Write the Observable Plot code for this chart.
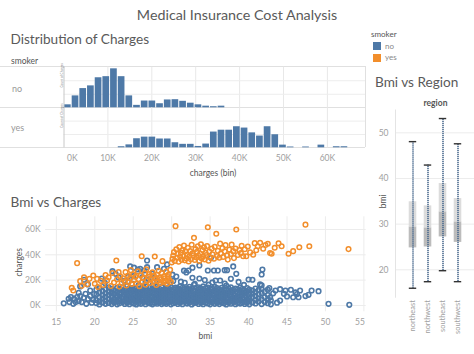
<!DOCTYPE html>
<html><head><meta charset="utf-8">
<script src="https://cdn.jsdelivr.net/npm/d3@7"></script>
<script src="https://cdn.jsdelivr.net/npm/@observablehq/plot@0.6"></script>
<style>
body{margin:0;background:#fff;font-family:Lato,"Open Sans",sans-serif;}
#wrap{position:relative;width:474px;height:354px;overflow:hidden;background:#fff;}
.t{position:absolute;white-space:nowrap;line-height:1;}
.ln{position:absolute;background:#e0e0e0;}
#wrap svg{position:absolute;left:0;top:0;}
</style></head><body><div id="wrap">
<div class="t" style="left:0;width:474px;text-align:center;top:8px;font-size:14.3px;color:#5a5a5a">Medical Insurance Cost Analysis</div>
<div class="t" style="left:10.5px;top:32.5px;font-size:13.6px;color:#5a5a5a">Distribution of Charges</div>
<div class="t" style="left:10.5px;top:195.5px;font-size:13.6px;color:#5a5a5a">Bmi vs Charges</div>
<div class="t" style="left:375px;top:76px;font-size:13.6px;color:#5a5a5a">Bmi vs Region</div>
<div class="t" style="left:371px;top:29.6px;font-size:8px;color:#555">smoker</div>
<div class="t" style="left:373px;top:41.7px;width:8px;height:8px;background:#4e79a7"></div>
<div class="t" style="left:373px;top:53.5px;width:8px;height:8px;background:#f28e2b"></div>
<div class="t" style="left:385px;top:41.6px;font-size:8px;color:#888">no</div>
<div class="t" style="left:385px;top:53.3px;font-size:8px;color:#888">yes</div>
<div class="t" style="left:11px;top:57px;font-size:8.5px;color:#555">smoker</div>
<div class="t" style="left:12px;top:83.6px;font-size:9px;color:#999">no</div>
<div class="t" style="left:11px;top:122.7px;font-size:9px;color:#999">yes</div>
<div class="t" style="left:385.5px;width:100px;text-align:center;top:99.3px;font-size:8.5px;color:#555;font-weight:bold">region</div>
<div class="t" style="left:163px;width:100px;text-align:center;top:168.5px;font-size:8.5px;color:#555">charges (bin)</div>
<div class="t" style="left:155.5px;width:100px;text-align:center;top:332px;font-size:8.5px;color:#555">bmi</div>
<div class="t" style="left:-31px;width:100px;text-align:center;top:258px;font-size:8.5px;color:#555;transform:rotate(-90deg)">charges</div>
<div class="t" style="left:333px;width:100px;text-align:center;top:197px;font-size:8.5px;color:#555;transform:rotate(-90deg)">bmi</div>
<div class="ln" style="left:0;top:66.2px;width:365px;height:1px"></div>
<div class="ln" style="left:0;top:106.8px;width:365px;height:1px"></div>
<div class="ln" style="left:0;top:146.8px;width:365px;height:1px"></div>
<div class="ln" style="left:364.5px;top:66.2px;width:1px;height:81px"></div>
</div>
<script>
// ---------- Histogram data (charges bins, in thousands) ----------
const binWidth = 1.75;
const histTicks = [0, 10, 20, 30, 40, 50, 60];
const noCounts = [11,44,71,81,111,115,144,115,44,9,25,25,15,29,30,24,17,11,6,4,6];
const yesCounts = [0,0,0,0,0,0,0,4,11,34,40,40,33,33,19,13,13,5,14,59,66,66,79,74,56,44,79,49,10,3,0,3,0,10,0,4,4];

// ---------- Box plot data ----------
const regions = ["northeast","northwest","southeast","southwest"];
const bmiMin = [15.96, 17.39, 19.8, 17.4];
const bmiQ1 = [24.8, 25.0, 27.2, 26.0];
const bmiMedian = [29.4, 29.2, 32.7, 30.5];
const bmiQ3 = [34.9, 34.0, 38.9, 35.6];
const bmiMax = [48.07, 42.94, 53.13, 47.6];
const boxTicks = [20, 30, 40, 50];

// ---------- Scatter data (bmi, charges in thousands) ----------
const scatterXTicks = [15, 20, 25, 30, 35, 40, 45, 50, 55];
const scatterYTicks = [0, 20, 40, 60];
const nonSmokerTail = [[15.96,1.7],[16.6,5.3],[16.7,2.7],[16.9,6.6],[17.2,1.3],[17.3,5.3],[17.5,2.7],[17.7,6.6],[17.9,3.5],[17.9,10.0],[18.1,7.4],[18.1,15.0],[18.3,2.7],[18.6,6.1],[18.6,20.3],[18.8,9.2],[18.9,1.3],[19.1,5.3],[19.1,16.6],[19.4,11.8],[19.4,7.4],[19.6,2.2],[19.8,4.6],[19.9,9.0],
[42.9,0.9],[42.8,6.5],[43.5,11.8],[44.1,12.9],[44.1,3.9],[44.8,11.8],[45.0,7.1],[45.5,12.4],[45.8,6.5],[46.1,10.3],[46.3,9.0],[46.5,6.5],[46.7,11.8],[47.4,7.4],[47.8,8.4],[48.2,11.8],[49.1,11.3],[50.4,1.3],[53.1,0.5],[43.2,9.6],[42.7,13.8],[43.7,2.2],[44.6,9.2],[42.9,4.1]];
const nonSmokerHigh = [[22.3,27.1],[22.7,25.0],[23.1,22.0],[24.6,30.8],[25.1,29.8],[25.6,28.4],[25.9,29.0],[26.4,27.6],[26.8,30.2],[26.8,35.5],[28.1,30.2],[29.0,29.0],[29.4,32.4],[27.5,25.0],[28.1,19.7],[24.3,22.4],[25.0,23.1],[23.8,19.5],[21.3,17.8],[20.9,21.2],[31.6,27.5],[31.9,26.1],[32.2,27.6],[32.7,21.9],[32.7,29.8],[33.6,31.6],[33.6,21.3],[34.3,20.1],[35.1,37.6],[34.7,27.6],[35.5,27.6],[36.0,27.6],[36.9,27.9],[37.2,27.9],[38.0,30.8],[38.4,25.0],[37.7,21.0],[41.8,28.4],[41.7,24.5],[40.0,20.5],[40.5,20.3],[41.5,16.6],[41.7,15.9],[35.7,19.7],[36.3,19.7],[30.6,22.8],[30.1,24.3],[27.0,20.6],[26.2,22.3],[29.8,17.9],[31.2,18.8],[33.0,17.0],[34.8,16.4],[36.9,17.3],[38.7,18.6],[39.4,16.2]];
// dense band of non-smokers: [bmi, [charges...]]
const nonSmokerBand = [
[20.2,[1.9,4.3,8.8,12.6]],[20.6,[0.8,3.1,6.2,10.4,13.7]],[21.0,[2.4,5.5,7.9,11.3]],[21.4,[1.3,3.8,6.9,9.6,12.9]],
[21.8,[2.0,4.9,8.4,11.0,14.1]],[22.2,[1.1,3.4,5.8,7.6,10.1,13.2]],[22.5,[2.6,4.6,9.2,12.0]],[22.9,[0.9,3.0,6.4,8.1,10.8,13.9]],
[23.2,[1.8,4.1,5.3,7.2,9.7,12.5]],[23.6,[2.8,5.0,6.8,11.4,14.4]],[23.9,[1.2,3.6,8.6,10.3,13.0]],[24.2,[2.2,4.4,6.1,7.9,9.9,12.2,15.4]],
[24.5,[1.0,3.2,5.6,8.9,11.6,13.6]],[24.8,[2.5,4.8,6.6,10.6,12.9,17.2]],[25.1,[1.5,3.9,5.2,7.7,9.3,11.9,14.0]],[25.4,[0.8,2.9,6.0,8.5,10.9,13.4]],
[25.7,[2.0,4.5,7.1,9.8,12.4,16.1]],[26.0,[1.3,3.5,5.7,8.2,11.1,13.7]],[26.3,[2.7,4.9,6.5,9.0,10.4,12.8,14.6]],[26.6,[1.0,3.3,6.2,7.8,11.7,13.3,18.5]],
[26.9,[2.3,4.2,5.5,8.7,10.2,12.1]],[27.2,[1.6,3.7,6.8,9.5,11.3,14.2]],[27.5,[0.9,2.6,5.1,7.4,10.0,12.7,15.9]],[27.8,[2.1,4.6,6.3,8.9,11.8,13.8]],
[28.1,[1.4,3.1,5.9,7.6,9.7,12.3,14.9]],[28.4,[2.4,4.0,6.9,8.3,10.8,13.1,17.6]],[28.7,[1.1,3.6,5.3,7.2,9.2,11.5,14.3]],[29.0,[2.0,4.4,6.1,8.6,10.5,12.6]],
[29.3,[1.3,2.9,5.6,7.9,9.9,11.9,13.7,16.5]],[29.6,[2.6,4.7,6.6,8.1,10.9,13.4]],[29.9,[0.9,3.4,5.0,7.3,9.4,12.1,14.5]],[30.2,[1.8,4.1,6.4,8.8,11.2,13.0,19.4]],
[30.5,[2.5,3.8,5.4,7.7,10.3,12.7,14.1]],[30.8,[1.2,3.0,6.0,8.4,9.6,11.6,13.6]],[31.1,[2.2,4.6,5.8,7.1,10.7,12.3,15.2]],[31.4,[1.0,3.5,6.7,8.9,11.4,14.0]],
[31.7,[2.9,4.3,5.2,7.5,9.8,12.9,17.9]],[32.0,[1.5,3.2,6.2,8.0,10.1,11.8,13.5]],[32.3,[2.3,4.8,5.6,7.8,9.3,12.5,14.7]],[32.6,[0.8,3.7,6.5,8.6,10.9,13.2]],
[32.9,[1.9,4.0,5.9,7.3,11.5,12.0,16.3]],[33.2,[2.6,3.3,6.9,8.3,9.5,13.9]],[33.5,[1.2,4.5,5.4,7.0,10.4,12.4,14.4]],[33.8,[2.1,3.6,6.3,8.7,11.1,13.3]],
[34.1,[1.0,2.8,5.1,7.6,9.9,12.2,15.0]],[34.4,[2.4,4.2,6.6,8.2,10.6,13.6]],[34.7,[1.6,3.9,5.7,7.4,9.1,11.7,14.2]],[35.0,[0.9,3.0,6.0,8.5,10.3,12.8]],
[35.3,[2.7,4.7,5.5,7.9,11.0,13.1,18.2]],[35.6,[1.3,3.4,6.4,9.0,12.1,14.6]],[35.9,[2.2,4.4,5.2,7.2,9.7,11.3,13.8]],[36.2,[1.1,3.1,6.1,8.0,10.8,12.6]],
[36.5,[2.5,4.0,6.8,8.8,11.5,14.0]],[36.8,[1.7,3.7,5.3,7.5,9.4,13.0]],[37.1,[0.8,2.9,6.2,8.3,10.2,12.3,15.6]],[37.4,[2.3,4.6,5.8,9.6,11.9,13.5]],
[37.7,[1.4,3.5,7.0,8.6,10.7,14.3]],[38.0,[2.8,4.3,6.0,9.2,12.4]],[38.3,[1.0,3.3,5.5,7.8,11.2,13.4]],[38.6,[2.0,4.8,6.6,10.0,12.8]],
[38.9,[1.5,3.8,7.3,9.1,11.6,14.1]],[39.2,[2.6,5.0,8.1,10.5,13.2]],[39.5,[1.2,3.0,6.3,9.8,12.0]],[39.8,[2.2,4.5,7.7,11.1,13.7]],
[40.1,[0.9,3.6,5.8,8.9,12.6]],[40.5,[2.4,6.7,9.4,11.8]],[40.9,[1.6,4.2,7.4,10.6,13.3]],[41.3,[3.1,5.6,8.8,12.2]],
[41.7,[1.1,4.9,9.9,13.0]],[42.1,[2.7,6.5,10.9]],[42.5,[1.8,4.6,8.2,12.5]]];
const smokerLow = [[17.0,14.0],[17.2,11.8],[17.7,33.4],[18.1,19.2],[18.3,15.5],[18.6,22.3],[19.0,16.8],[19.3,21.0],[19.8,23.7],[20.0,17.1],[20.3,21.0],[20.4,14.6],[20.8,19.4],[21.1,16.2],[21.4,24.1],[21.6,19.7],[21.8,22.2],[22.1,15.3],[22.3,25.6],[22.5,18.1],[22.8,35.5],[22.9,20.6],[23.1,26.3],[23.2,14.9],[23.3,23.0],[23.5,17.6],[23.7,21.4],[23.9,19.0],[24.0,26.3],[24.1,15.8],[24.3,23.4],[24.4,18.3],[24.6,21.9],[24.7,27.9],[24.8,16.9],[25.0,24.7],[25.1,19.9],[25.3,22.6],[25.4,17.3],[25.6,26.9],[25.7,20.8],[25.8,15.2],[26.0,23.9],[26.1,38.9],[26.2,18.7],[26.3,21.7],[26.5,25.3],[26.6,16.4],[26.7,28.6],[26.8,19.6],[27.0,22.9],[27.1,24.8],[27.2,17.8],[27.3,20.4],[27.5,26.1],[27.6,18.9],[27.7,23.5],[27.8,38.7],[27.9,21.2],[28.0,16.1],[28.1,24.2],[28.2,19.3],[28.3,27.4],[28.4,22.0],[28.5,17.5],[28.6,20.7],[28.7,25.6],[28.8,35.0],[28.9,18.4],[29.0,23.1],[29.1,21.5],[29.2,19.0],[29.3,26.7],[29.4,17.2],[29.5,22.4],[29.6,24.5],[29.7,20.1],[29.8,28.1],[29.9,18.6]];
const smokerHigh = [[30.0,33.9],[30.1,36.8],[30.2,39.5],[30.3,42.1],[30.4,35.2],[30.5,62.6],[30.6,44.3],[30.7,37.6],[30.8,40.8],[30.9,34.5],[31.0,46.2],[31.1,38.4],[31.2,41.7],[31.3,36.0],[31.4,43.5],[31.5,39.0],[31.6,47.3],[31.7,35.6],[31.8,42.8],[31.9,37.2],[32.0,40.1],[32.1,45.5],[32.2,34.8],[32.3,38.9],[32.4,43.0],[32.5,36.5],[32.6,47.9],[32.7,41.2],[32.8,39.7],[32.9,53.4],[33.0,35.9],[33.1,44.6],[33.2,37.9],[33.3,42.4],[33.4,46.7],[33.5,39.3],[33.6,35.1],[33.7,40.9],[33.8,48.3],[33.9,37.0],[34.0,43.8],[34.1,38.6],[34.2,45.9],[34.3,36.3],[34.4,41.5],[34.5,39.9],[34.6,47.0],[34.7,61.8],[34.8,35.4],[34.9,42.6],[35.0,38.1],[35.2,44.9],[35.3,40.4],[35.5,36.9],[35.6,46.4],[35.8,56.6],[35.9,39.1],[36.0,43.2],[36.2,37.7],[36.3,48.8],[36.4,41.0],[36.6,45.3],[36.7,38.3],[36.9,42.7],[37.0,47.6],[37.2,39.6],[37.3,36.2],[37.5,44.1],[37.7,40.6],[37.8,48.0],[38.0,42.9],[38.1,37.4],[38.3,45.0],[38.4,60.0],[38.6,39.8],[38.8,43.7],[39.0,41.3],[39.1,47.1],[39.3,38.8],[39.5,44.4],[39.7,38.9],[39.9,46.5],[40.2,41.9],[40.6,40.0],[40.8,49.2],[41.0,43.6],[41.2,46.8],[41.5,49.5],[41.9,44.8],[42.2,47.7],[42.5,48.7],[42.8,41.4],[43.0,40.8],[43.4,45.6],[43.9,49.1],[44.3,46.8],[45.2,40.8],[45.8,42.9],[46.6,46.0],[47.4,63.8],[47.9,46.8],[53.0,44.5]];

const BLUE = "#4e79a7", ORANGE = "#f28e2b";
const W = 474, H = 354;
const baseStyle = {background: "transparent", fontFamily: "Lato, 'Open Sans', sans-serif", fontSize: "8.5px", color: "#a0a0a0", overflow: "visible"};
const wrap = document.getElementById("wrap");

// Histogram tables
const noTable = noCounts.map((c, i) => ({x1: i * binWidth, x2: (i + 1) * binWidth, count: c}));
const yesTable = yesCounts.map((c, i) => ({x1: i * binWidth, x2: (i + 1) * binWidth, count: c})).filter(d => d.count > 0);

function histRow(table, top, bottom, withAxis) {
  const marks = [
    Plot.gridX(histTicks.filter(d => d > 0), {stroke: "#e8e8e8", strokeOpacity: 1}),
    Plot.gridY([50, 100], {stroke: "#ededed", strokeOpacity: 1}),
    Plot.rectY(table, {x1: "x1", x2: "x2", y: "count", fill: BLUE, insetLeft: 0.5, insetRight: 0.5}),
    Plot.ruleX([0], {stroke: "#c8c8c8"}),
    Plot.text(["Count of Charges"], {frameAnchor: "left", rotate: -90, dx: -2, fontSize: 3.2, fill: "#888"})
  ];
  if (withAxis) {
    marks.push(Plot.axisX([0], {tickSize: 0, tickPadding: 7, textAnchor: "start", dx: 3, tickFormat: d => d + "K", label: null}));
    marks.push(Plot.axisX(histTicks.filter(d => d > 0), {tickSize: 0, tickPadding: 7, tickFormat: d => d + "K", label: null}));
  }
  return Plot.plot({
    width: W, height: H,
    marginLeft: 63.5, marginRight: W - 365, marginTop: top, marginBottom: H - bottom,
    x: {domain: [0, 68.68], axis: null},
    y: {domain: [0, 150], axis: null},
    style: baseStyle,
    marks
  });
}
wrap.appendChild(histRow(noTable, 66.7, 107.3, false));
wrap.appendChild(histRow(yesTable, 107.3, 147.3, true));

// Scatter
const nonSmokers = nonSmokerTail.concat(nonSmokerHigh, nonSmokerBand.flatMap(([b, cs]) => cs.map(c => [b, c])));
const smokers = smokerLow.concat(smokerHigh);
const scatter = Plot.plot({
  width: W, height: H,
  marginLeft: 45.1, marginRight: W - 365.7, marginTop: 216.3, marginBottom: H - 311.3,
  x: {domain: [13.6, 55.3], axis: null},
  y: {domain: [-5, 70], axis: null},
  style: baseStyle,
  marks: [
    Plot.gridX(scatterXTicks, {stroke: "#ececec", strokeOpacity: 1}),
    Plot.gridY(scatterYTicks, {stroke: "#ececec", strokeOpacity: 1}),
    Plot.dot(nonSmokers, {x: d => d[0], y: d => d[1], r: 2.3, stroke: BLUE, strokeWidth: 1.6, fill: "none"}),
    Plot.dot(smokers, {x: d => d[0], y: d => d[1], r: 2.3, stroke: ORANGE, strokeWidth: 1.5, fill: "none"}),
    Plot.axisX(scatterXTicks.slice(0, -1), {tickSize: 0, tickPadding: 7, label: null}),
    Plot.axisX(scatterXTicks.slice(-1), {tickSize: 0, tickPadding: 7, textAnchor: "end", dx: 1, label: null}),
    Plot.axisY(scatterYTicks, {tickSize: 0, tickPadding: 5, tickFormat: d => d + "K", label: null})
  ]
});
wrap.appendChild(scatter);

// Box plot
const boxTable = regions.map((r, i) => ({region: r, min: bmiMin[i], q1: bmiQ1[i], med: bmiMedian[i], q3: bmiQ3[i], max: bmiMax[i]}));
const box = Plot.plot({
  width: W, height: H,
  marginLeft: 395, marginRight: 0, marginTop: 109.5, marginBottom: H - 296.7,
  x: {domain: regions, range: [404.2, 466.6], padding: 0, axis: null},
  y: {domain: [14, 55], axis: null},
  style: baseStyle,
  marks: [
    Plot.gridY(boxTicks, {stroke: "#ececec", strokeOpacity: 1}),
    Plot.frame({anchor: "left", stroke: "#e4e4e4"}),
    Plot.barY(boxTable, {x: "region", y1: "q1", y2: "med", fill: "#bcbcbc", insetLeft: 3.7, insetRight: 3.7}),
    Plot.barY(boxTable, {x: "region", y1: "med", y2: "q3", fill: "#dcdcdc", insetLeft: 3.7, insetRight: 3.7}),
    Plot.ruleX(boxTable, {x: "region", y1: "min", y2: "max", stroke: "#4a6a8e", strokeWidth: 1.6, strokeDasharray: "1.3,0.7"}),
    Plot.tickY(boxTable, {x: "region", y: "min", stroke: "#333", strokeWidth: 1.4, insetLeft: 3.8, insetRight: 3.8}),
    Plot.tickY(boxTable, {x: "region", y: "max", stroke: "#333", strokeWidth: 1.4, insetLeft: 3.8, insetRight: 3.8}),
    Plot.axisY(boxTicks, {tickSize: 0, tickPadding: 7, label: null}),
    Plot.axisX({tickSize: 0, tickPadding: 3, tickRotate: -90, label: null, fontSize: 7.4})
  ]
});
wrap.appendChild(box);
</script>
</body></html>
